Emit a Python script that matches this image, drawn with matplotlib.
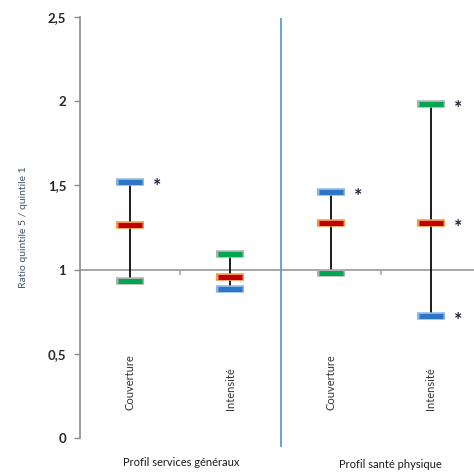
import matplotlib
matplotlib.use("Agg")
import matplotlib.pyplot as plt

plt.rcParams['font.family'] = ['Lato', 'DejaVu Sans']

categories = ["Couverture", "Intensité", "Couverture", "Intensité"]
groups = ["Profil services généraux", "Profil santé physique"]
q_blue = [1.52, 0.885, 1.46, 0.725]
q_red = [1.265, 0.956, 1.277, 1.277]
q_green = [0.93, 1.093, 0.98, 1.983]
# significance stars: which series are flagged for each category
stars_blue = [True, False, True, True]
stars_red = [False, False, False, True]
stars_green = [False, False, False, True]
yticks = [0, 0.5, 1, 1.5, 2, 2.5]
ytick_labels = ["0", "0,5", "1", "1,5", "2", "2,5"]

fig = plt.figure(figsize=(4.74, 4.74), dpi=100)
ax = fig.add_axes([80 / 474, 1 - 438 / 474, 401 / 474, 421 / 474])
ax.set_xlim(-0.5, 3.5)
ax.set_ylim(0, 2.5)

x = list(range(len(categories)))

# reference line at ratio 1, with ticks between categories
ax.axhline(1, color="#a6a6a6", lw=1.4, zorder=1)
for xb in [0.5, 2.5]:
    ax.plot([xb, xb], [1, 0.975], color="#a6a6a6", lw=1.2, zorder=1)

# group separator
ax.plot([1.5, 1.5], [2.49, -0.05], color="#5b9bd5", lw=1.3, clip_on=False, zorder=1)

# min-max range lines
for xi, b, r, g in zip(x, q_blue, q_red, q_green):
    lo, hi = min(b, r, g), max(b, r, g)
    ax.plot([xi, xi], [lo, hi], color="#1a1a1a", lw=1.4, zorder=2)

def bars(vals, face, edge):
    ax.plot(x, vals, ls="none", marker="_", ms=19.5, mew=5.4, color=edge, zorder=3)
    ax.plot(x, vals, ls="none", marker="_", ms=17.5, mew=3.6, color=face, zorder=4)

bars(q_green, "#00a650", "#b0b0b0")
bars(q_red, "#c00000", "#f79646")
bars(q_blue, "#2e75c6", "#8ab8e6")

for flags, vals in [(stars_blue, q_blue), (stars_red, q_red), (stars_green, q_green)]:
    for xi, f, v in zip(x, flags, vals):
        if f:
            ax.text(xi + 0.27, v - 0.025, "*", ha="center", va="center",
                    fontsize=14, fontweight="bold", color="#1f1f3a", zorder=5)

# axes styling
for s in ["top", "right", "bottom"]:
    ax.spines[s].set_visible(False)
ax.spines["left"].set_color("#8c8c8c")
ax.spines["left"].set_linewidth(1.2)
ax.set_xticks([])
ax.set_yticks(yticks)
ax.set_yticklabels(ytick_labels, fontsize=9.5, fontweight="bold", color="#262626")
ax.tick_params(axis="y", length=4, color="#8c8c8c", width=1.0, pad=6)
ax.set_ylabel("Ratio quintile 5 / quintile 1", fontsize=7.5, color="#44546a", labelpad=14)

# category labels
for xi, c in zip(x, categories):
    ax.text(xi, 0.166, c, rotation=90, ha="center", va="bottom",
            fontsize=8, color="#333333")

# group labels
fig.text(181 / 474, 1 - 462 / 474, groups[0], ha="center", va="center",
         fontsize=8, color="#1a1a1a")
fig.text(390 / 474, 1 - 465 / 474, groups[1], ha="center", va="center",
         fontsize=8, color="#1a1a1a")

fig.savefig("out.png", dpi=100)
